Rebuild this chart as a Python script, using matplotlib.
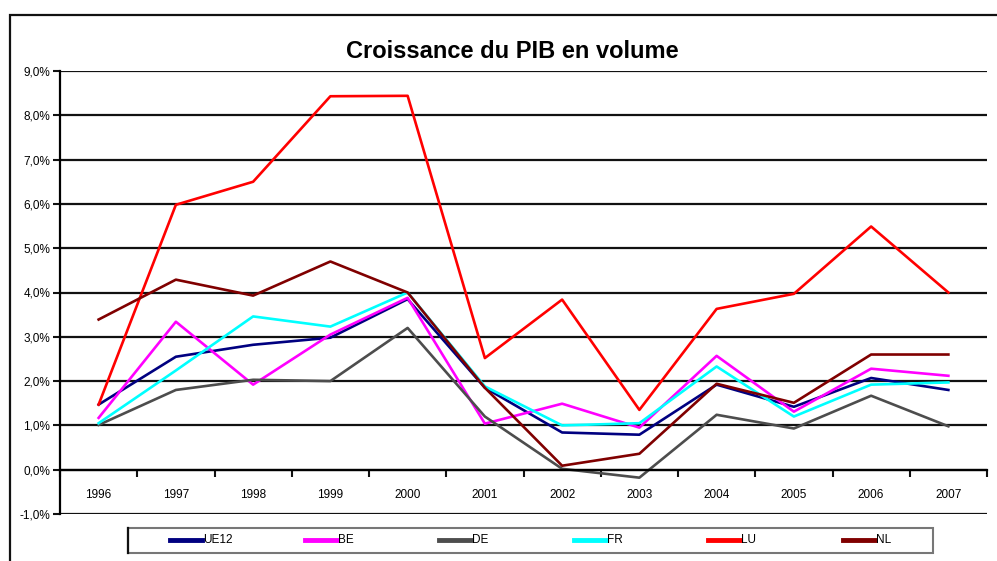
import matplotlib.pyplot as plt
import numpy as np
from matplotlib.lines import Line2D
from matplotlib.patches import Rectangle

plt.rcParams['font.family'] = ['Liberation Sans', 'DejaVu Sans']

years = ['1996', '1997', '1998', '1999', '2000', '2001', '2002', '2003', '2004', '2005', '2006', '2007']
ue12 = [1.47, 2.55, 2.82, 2.98, 3.85, 1.85, 0.84, 0.79, 1.92, 1.42, 2.07, 1.80]
be = [1.17, 3.34, 1.92, 3.05, 3.88, 1.04, 1.49, 0.95, 2.57, 1.31, 2.28, 2.12]
de = [1.01, 1.80, 2.03, 2.00, 3.20, 1.20, 0.02, -0.18, 1.24, 0.93, 1.67, 0.98]
fr = [1.05, 2.24, 3.46, 3.23, 4.00, 1.88, 1.00, 1.05, 2.33, 1.20, 1.92, 1.97]
lu = [1.47, 5.98, 6.50, 8.43, 8.44, 2.52, 3.84, 1.35, 3.63, 3.97, 5.49, 4.00]
nl = [3.39, 4.29, 3.93, 4.70, 4.00, 1.85, 0.09, 0.36, 1.94, 1.51, 2.60, 2.60]

series = [('UE12', ue12, '#000080'), ('BE', be, '#ff00ff'), ('DE', de, '#4d4d4d'),
          ('FR', fr, '#00ffff'), ('LU', lu, '#ff0000'), ('NL', nl, '#800000')]

fig = plt.figure(figsize=(9.97, 5.61), dpi=100)
ax = fig.add_axes([60 / 997, 1 - 514 / 561, 927 / 997, 443 / 561])

x = np.arange(len(years))
for name, vals, col in series:
    ax.plot(x, vals, color=col, lw=1.9, label=name)

ax.set_xlim(-0.5, len(years) - 0.5)
ax.set_ylim(-1, 9)
ax.set_yticks(np.arange(-1, 10, 1))
ax.yaxis.set_major_formatter(plt.FuncFormatter(lambda v, p: ('%.1f%%' % v).replace('.', ',')))
ax.grid(axis='y', color='#111111', lw=1.6)
ax.set_axisbelow(True)
ax.tick_params(axis='y', length=5, width=1.5, color='#111111', labelsize=8.5, pad=2)

ax.set_xticks(x)
ax.set_xticklabels(years)
ax.set_xticks(np.arange(-0.5, len(years), 1), minor=True)
ax.tick_params(axis='x', which='major', length=0, labelsize=8.5, pad=14)
ax.tick_params(axis='x', which='minor', length=5, width=1.5, color='#111111', direction='out')
ax.spines['bottom'].set_position(('data', 0))
ax.spines['bottom'].set_linewidth(1.6)
ax.spines['left'].set_linewidth(1.6)
ax.spines['top'].set_visible(False)
ax.spines['right'].set_visible(False)

fig.text(512 / 997, 1 - 51 / 561, 'Croissance du PIB en volume', ha='center', va='center',
         fontsize=17, fontweight='bold')

# outer frame (only top and left visible in the crop)
fig.add_artist(Rectangle((10 / 997, -0.1), 1.2, 1 - 15 / 561 + 0.1, transform=fig.transFigure,
                         fill=False, ec='#111111', lw=1.6))

# legend box
fig.add_artist(Rectangle((128 / 997, 1 - 553 / 561), 805 / 997, 25 / 561, transform=fig.transFigure,
                         fill=False, ec='#777777', lw=1.5))
fig.add_artist(Line2D([128 / 997, 128 / 997], [1 - 553 / 561, 1 - 528 / 561], transform=fig.transFigure,
                      color='#111111', lw=1.6))
ly = 1 - 540 / 561
for i, (name, vals, col) in enumerate(series):
    x0 = (170 + i * 134.6) / 997
    fig.add_artist(Line2D([x0, x0 + 32 / 997], [ly, ly], transform=fig.transFigure,
                          color=col, lw=3.5))
    fig.text(x0 + 33 / 997, ly, name, ha='left', va='center', fontsize=8.5)

fig.savefig('out.png', dpi=100)
